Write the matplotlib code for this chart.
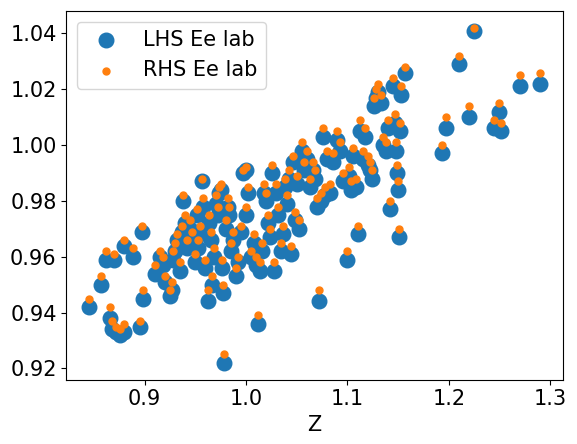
import matplotlib
matplotlib.use("Agg")
import matplotlib.pyplot as plt

z = [0.845,0.857,0.862,0.866,0.868,0.872,0.876,0.880,0.870,0.880,0.888,0.897,0.895,0.898,0.910,0.915,0.918,0.920,0.925,0.927,
     0.928,0.930,0.932,0.935,0.937,0.938,0.940,0.942,0.945,0.947,0.950,0.952,0.953,0.955,0.957,0.958,0.960,0.962,0.963,0.965,
     0.966,0.968,0.970,0.972,0.973,0.975,0.976,0.977,0.978,0.980,0.982,0.983,0.985,0.987,0.990,0.992,0.995,0.997,1.000,1.000,
     1.002,1.005,1.008,1.010,1.012,1.014,1.016,1.018,1.020,1.022,1.024,1.026,1.028,1.030,1.032,1.034,1.036,1.038,1.040,1.042,
     1.044,1.046,1.048,1.050,1.052,1.055,1.057,1.060,1.063,1.066,1.068,1.070,1.072,1.074,1.076,1.078,1.080,1.083,1.086,1.090,
     1.093,1.096,1.100,1.102,1.104,1.106,1.108,1.110,1.112,1.115,1.117,1.120,1.122,1.124,1.126,1.128,1.130,1.133,1.135,1.138,
     1.140,1.142,1.145,1.147,1.148,1.149,1.150,1.151,1.152,1.153,1.157,1.193,1.197,1.210,1.220,1.225,1.245,1.250,1.252,1.270,1.290]
lhs = [0.942,0.950,0.959,0.938,0.934,0.933,0.932,0.933,0.959,0.964,0.960,0.969,0.935,0.945,0.954,0.960,0.957,0.951,0.946,0.948,
       0.959,0.962,0.966,0.955,0.969,0.980,0.972,0.963,0.970,0.966,0.958,0.975,0.963,0.968,0.987,0.978,0.956,0.944,0.972,0.966,
       0.950,0.960,0.979,0.975,0.983,0.984,0.956,0.947,0.922,0.970,0.978,0.975,0.962,0.966,0.953,0.958,0.969,0.990,0.991,0.975,
       0.983,0.960,0.965,0.957,0.936,0.955,0.962,0.983,0.980,0.972,0.967,0.990,0.955,0.983,0.975,0.962,0.968,0.985,0.979,0.988,
       0.961,0.994,0.973,0.986,0.970,0.998,0.991,0.995,0.985,0.991,0.988,0.978,0.944,0.980,1.003,0.982,0.995,0.983,0.994,1.002,
       0.998,0.987,0.959,0.989,0.984,0.996,0.985,0.968,1.005,0.995,1.003,0.993,0.991,0.988,1.014,1.017,1.019,1.015,1.000,0.998,
       1.006,0.977,1.021,1.008,0.998,0.990,0.984,0.967,1.005,1.018,1.026,0.997,1.006,1.029,1.010,1.041,1.006,1.012,1.005,1.021,1.022]
rhs = [0.945,0.953,0.962,0.942,0.937,0.935,0.934,0.936,0.961,0.966,0.963,0.971,0.937,0.948,0.957,0.962,0.960,0.953,0.948,0.951,
       0.962,0.965,0.968,0.958,0.971,0.982,0.975,0.966,0.973,0.969,0.961,0.977,0.966,0.971,0.988,0.981,0.959,0.948,0.975,0.969,
       0.953,0.963,0.982,0.978,0.985,0.986,0.959,0.950,0.925,0.973,0.981,0.978,0.965,0.969,0.956,0.960,0.971,0.991,0.992,0.978,
       0.985,0.962,0.968,0.960,0.939,0.958,0.965,0.986,0.983,0.975,0.970,0.993,0.958,0.986,0.978,0.965,0.971,0.988,0.982,0.991,
       0.964,0.996,0.976,0.989,0.973,1.001,0.994,0.998,0.988,0.994,0.991,0.981,0.948,0.983,1.006,0.985,0.998,0.986,0.997,1.005,
       1.001,0.990,0.962,0.992,0.987,0.999,0.988,0.971,1.009,0.998,1.006,0.996,0.994,0.991,1.017,1.020,1.022,1.018,1.003,1.001,
       1.009,0.980,1.024,1.011,1.001,0.993,0.987,0.970,1.008,1.021,1.028,1.000,1.010,1.032,1.014,1.042,1.009,1.015,1.008,1.025,1.026]

plt.rcParams['font.size'] = 15
fig, ax = plt.subplots(figsize=(5.77, 4.44), dpi=100)
ax.scatter(z, lhs, s=110, color='#1f77b4', label='LHS Ee lab')
ax.scatter(z, rhs, s=25, color='#ff7f0e', label='RHS Ee lab')
ax.set_xlabel('Z')
ax.set_xticks([0.9, 1.0, 1.1, 1.2, 1.3])
ax.set_yticks([0.92, 0.94, 0.96, 0.98, 1.00, 1.02, 1.04])
ax.legend(loc='upper left')
fig.subplots_adjust(left=0.115, right=0.975, bottom=0.145, top=0.975)
fig.savefig('out.png')
